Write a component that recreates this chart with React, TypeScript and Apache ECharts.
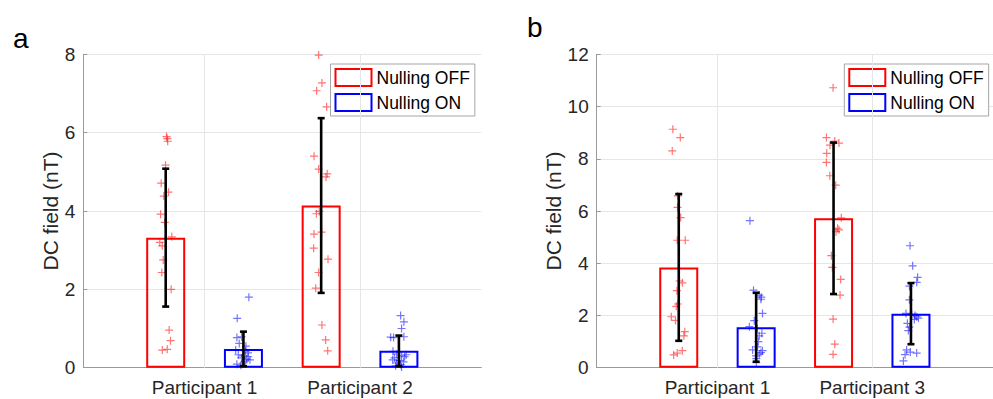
import React, { useEffect, useRef } from 'react';
import * as echarts from 'echarts';

// ---------- data ----------
const seriesNames = ['Nulling OFF', 'Nulling ON'];
const categoriesA = ['Participant 1', 'Participant 2'];
const categoriesB = ['Participant 1', 'Participant 3'];

// bar means and standard deviations (nT)
const meanOffA = [3.32, 4.14];
const sdOffA = [1.76, 2.23];
const meanOnA = [0.48, 0.43];
const sdOnA = [0.44, 0.39];

const meanOffB = [3.84, 5.72];
const sdOffB = [2.81, 2.9];
const meanOnB = [1.55, 2.07];
const sdOnB = [1.32, 1.17];

// individual measurements (nT) and their horizontal jitter (category units)
const ptsOffA1 = [5.9, 5.85, 5.78, 5.17, 4.71, 4.38, 4.48, 3.92, 3.71, 3.34, 3.2, 3.11, 2.75, 2.43, 2.0, 0.96, 0.69, 0.45, 0.47];
const jitOffA1 = [0.005, 0.01, 0.013, -0.001, -0.029, -0.012, 0.018, -0.033, -0.006, 0.039, -0.038, -0.022, -0.016, -0.025, 0.035, 0.022, 0.031, -0.022, 0.01];
const ptsOffA2 = [7.98, 7.27, 7.07, 6.66, 5.4, 5.07, 4.95, 4.87, 3.93, 3.99, 3.41, 3.46, 3.05, 2.77, 2.43, 2.03, 1.09, 0.71, 0.43];
const jitOffA2 = [-0.016, 0.005, -0.029, 0.035, -0.046, -0.016, 0.039, 0.031, -0.031, -0.012, -0.046, 0.003, -0.048, 0.044, -0.016, -0.035, 0.005, 0.029, 0.042];
const ptsOnA1 = [1.8, 1.26, 0.79, 0.77, 0.62, 0.55, 0.45, 0.42, 0.38, 0.33, 0.3, 0.28, 0.25, 0.22, 0.2, 0.17, 0.12, 0.09, 0.06];
const jitOnA1 = [0.035, -0.04, -0.012, -0.042, -0.027, 0.016, -0.05, 0.014, 0.029, -0.033, -0.003, 0.031, -0.012, 0.021, 0.042, 0.01, -0.001, -0.042, -0.016];
const ptsOnA2 = [1.33, 1.17, 1.0, 0.79, 0.78, 0.77, 0.42, 0.35, 0.33, 0.3, 0.28, 0.25, 0.2, 0.18, 0.15, 0.12, 0.08, 0.05, 0.02];
const jitOnA2 = [0.011, 0.032, 0.017, 0.032, -0.053, -0.034, -0.038, -0.015, 0.047, 0.017, 0.037, -0.028, -0.04, 0.004, 0.03, -0.015, 0.011, -0.021, 0.017];

const ptsOffB1 = [9.13, 8.81, 8.3, 6.58, 6.14, 5.75, 4.88, 4.88, 3.32, 3.25, 2.95, 2.44, 2.35, 1.95, 1.81, 1.38, 1.22, 0.65, 0.56, 0.49];
const jitOffB1 = [-0.038, 0.01, -0.042, -0.006, -0.008, 0.012, -0.01, 0.042, 0.005, 0.023, -0.012, -0.006, -0.016, -0.048, -0.021, 0.039, 0.033, 0.023, -0.01, -0.033];
const ptsOffB2 = [10.72, 8.81, 8.68, 8.6, 8.52, 8.21, 7.86, 7.35, 6.99, 5.74, 5.34, 5.28, 5.21, 4.29, 3.84, 3.38, 2.78, 1.86, 0.9, 0.51];
const jitOffB2 = [-0.003, -0.046, 0.008, 0.035, -0.023, -0.044, -0.046, -0.024, 0.014, 0.05, 0.026, 0.035, 0.016, -0.014, -0.008, 0.046, 0.042, -0.003, 0.008, -0.003];
const ptsOnB1 = [5.63, 2.97, 2.78, 2.7, 2.62, 2.08, 1.8, 1.57, 1.5, 1.32, 1.22, 1.0, 0.8, 0.68, 0.65, 0.58, 0.52, 0.45, 0.35, 0.19];
const jitOnB1 = [-0.04, -0.017, 0.02, 0.033, 0.031, 0.041, -0.012, -0.044, 0.007, 0.037, 0.02, 0.014, 0.009, -0.023, 0.041, 0.031, 0.02, -0.001, 0.001, 0.001];
const ptsOnB2 = [4.67, 3.9, 3.46, 3.27, 3.12, 2.6, 2.08, 2.05, 2.0, 1.95, 1.9, 1.85, 1.7, 1.55, 1.42, 0.68, 0.6, 0.56, 0.5, 0.26];
const jitOnB2 = [-0.006, 0.011, 0.043, 0.037, -0.01, -0.01, -0.032, 0.005, 0.026, 0.037, 0.048, 0.022, -0.023, -0.01, -0.017, -0.028, -0.004, 0.037, -0.038, -0.049];

const yMaxA = 8;
const yMaxB = 12;
const yStep = 2;

// ---------- styling ----------
const FONT = '"Liberation Sans", Arial, Helvetica, sans-serif';
const TEXT = '#262626';
const AXIS = '#9a9a9a';
const GRID = '#e6e6e6';
const RED = '#ff0000';
const BLUE = '#0000ff';
const PLUS = 'path://M4.25,0H5.75V4.25H10V5.75H5.75V10H4.25V5.75H0V4.25H4.25Z';
const BAR_OFFSET = 0.25;

function errorBarRender(params: any, api: any) {
  const x = api.value(0);
  const m = api.value(1);
  const s = api.value(2);
  const top = api.coord([x, m + s]);
  const bot = api.coord([x, m - s]);
  const cap = 3.5;
  const style = { stroke: '#000', lineWidth: 2.6 };
  return {
    type: 'group',
    children: [
      { type: 'line', shape: { x1: top[0], y1: top[1], x2: bot[0], y2: bot[1] }, style },
      { type: 'line', shape: { x1: top[0] - cap, y1: top[1], x2: top[0] + cap, y2: top[1] }, style },
      { type: 'line', shape: { x1: bot[0] - cap, y1: bot[1], x2: bot[0] + cap, y2: bot[1] }, style },
    ],
  };
}

function panel(
  idx: number,
  categories: string[],
  meanOff: number[], sdOff: number[], meanOn: number[], sdOn: number[],
  ptsOff: number[][], jitOff: number[][], ptsOn: number[][], jitOn: number[][],
) {
  const offX = categories.map((_, i) => i + 1 - BAR_OFFSET);
  const onX = categories.map((_, i) => i + 1 + BAR_OFFSET);
  const scatterData = (xs: number[], pts: number[][], jit: number[][]) => {
    const out: number[][] = [];
    pts.forEach((vals, i) => vals.forEach((v, k) => out.push([xs[i] + jit[i][k], v])));
    return out;
  };
  const common = { xAxisIndex: idx, yAxisIndex: idx };
  return [
    {
      ...common,
      type: 'bar',
      name: seriesNames[0],
      barWidth: 39,
      barGap: '-100%',
      z: 2,
      itemStyle: { color: 'rgba(255,255,255,0)', borderColor: RED, borderWidth: 2 },
      data: offX.map((x, i) => [x, meanOff[i]]),
      markLine: {
        silent: true,
        symbol: 'none',
        label: { show: false },
        lineStyle: { color: GRID, width: 1, type: 'solid' },
        data: categories.map((_, i) => ({ xAxis: i + 1 })),
      },
    },
    {
      ...common,
      type: 'bar',
      name: seriesNames[1],
      barWidth: 39,
      barGap: '-100%',
      z: 2,
      itemStyle: { color: 'rgba(255,255,255,0)', borderColor: BLUE, borderWidth: 2 },
      data: onX.map((x, i) => [x, meanOn[i]]),
    },
    {
      ...common,
      type: 'scatter',
      name: 'off-points',
      symbol: PLUS,
      symbolSize: 8,
      z: 3,
      itemStyle: { color: 'rgba(255,0,0,0.68)' },
      data: scatterData(offX, ptsOff, jitOff),
    },
    {
      ...common,
      type: 'scatter',
      name: 'on-points',
      symbol: PLUS,
      symbolSize: 8,
      z: 3,
      itemStyle: { color: 'rgba(0,0,255,0.68)' },
      data: scatterData(onX, ptsOn, jitOn),
    },
    {
      ...common,
      type: 'custom',
      name: 'off-sd',
      z: 4,
      renderItem: errorBarRender,
      encode: { x: 0, y: 1 },
      data: offX.map((x, i) => [x, meanOff[i], sdOff[i]]),
    },
    {
      ...common,
      type: 'custom',
      name: 'on-sd',
      z: 4,
      renderItem: errorBarRender,
      encode: { x: 0, y: 1 },
      data: onX.map((x, i) => [x, meanOn[i], sdOn[i]]),
    },
  ];
}

function xAxisFor(idx: number, categories: string[]) {
  const ticks = categories.map((_, i) => i + 1);
  return {
    type: 'value',
    gridIndex: idx,
    min: 0.22,
    max: 2.78,
    axisLine: { show: true, lineStyle: { color: AXIS, width: 1 } },
    axisTick: { show: true, inside: true, length: 4, customValues: ticks, lineStyle: { color: AXIS } },
    axisLabel: {
      show: true,
      customValues: ticks,
      formatter: (v: number) => categories[Math.round(v) - 1] ?? '',
      color: TEXT,
      fontSize: 19,
      fontFamily: FONT,
      margin: 10,
    },
    splitLine: { show: false },
  };
}

function yAxisFor(idx: number, max: number, nameGap: number) {
  return {
    type: 'value',
    gridIndex: idx,
    min: 0,
    max,
    interval: yStep,
    name: 'DC field (nT)',
    nameLocation: 'middle',
    nameGap,
    nameTextStyle: { color: TEXT, fontSize: 21, fontFamily: FONT },
    axisLine: { show: true, lineStyle: { color: AXIS, width: 1 } },
    axisTick: { show: true, inside: true, length: 4, lineStyle: { color: AXIS } },
    axisLabel: { color: TEXT, fontSize: 19, fontFamily: FONT, margin: 8 },
    splitLine: { show: true, lineStyle: { color: GRID, width: 1 } },
  };
}

function legendFor(left: number) {
  return {
    orient: 'vertical',
    left,
    top: 64,
    itemWidth: 36,
    itemHeight: 17,
    itemGap: 6,
    padding: [4, 5, 4, 4],
    icon: 'rect',
    backgroundColor: '#ffffff',
    borderColor: '#a6a6a6',
    borderWidth: 1,
    borderRadius: 0,
    selectedMode: false,
    textStyle: { color: '#000', fontSize: 17.5, fontFamily: FONT },
    data: [
      { name: seriesNames[0], itemStyle: { color: '#ffffff', borderColor: RED, borderWidth: 2 } },
      { name: seriesNames[1], itemStyle: { color: '#ffffff', borderColor: BLUE, borderWidth: 2 } },
    ],
  };
}

export default function App() {
  const ref = useRef<HTMLDivElement>(null);
  useEffect(() => {
    if (!ref.current) return;
    const chart = echarts.init(ref.current, undefined, { renderer: 'svg' });
    const option: any = {
      animation: false,
      backgroundColor: '#ffffff',
      grid: [
        { left: 83.3, top: 54.3, width: 398, height: 313.4 },
        { left: 596.7, top: 54.3, width: 398, height: 313.4 },
      ],
      xAxis: [xAxisFor(0, categoriesA), xAxisFor(1, categoriesB)],
      yAxis: [yAxisFor(0, yMaxA, 22), yAxisFor(1, yMaxB, 32)],
      legend: [legendFor(330.5), legendFor(844.3)],
      graphic: [
        {
          type: 'text',
          left: 13,
          top: 24,
          style: { text: 'a', font: `28px ${FONT}`, fill: '#000' },
        },
        {
          type: 'text',
          left: 527,
          top: 13,
          style: { text: 'b', font: `28px ${FONT}`, fill: '#000' },
        },
      ],
      series: [
        ...panel(0, categoriesA, meanOffA, sdOffA, meanOnA, sdOnA,
          [ptsOffA1, ptsOffA2], [jitOffA1, jitOffA2], [ptsOnA1, ptsOnA2], [jitOnA1, jitOnA2]),
        ...panel(1, categoriesB, meanOffB, sdOffB, meanOnB, sdOnB,
          [ptsOffB1, ptsOffB2], [jitOffB1, jitOffB2], [ptsOnB1, ptsOnB2], [jitOnB1, jitOnB2]),
      ],
    };
    chart.setOption(option);
    return () => chart.dispose();
  }, []);
  return (
    <div
      ref={ref}
      style={{ position: 'absolute', left: 0, top: 0, width: 993, height: 399, background: '#fff' }}
    />
  );
}
